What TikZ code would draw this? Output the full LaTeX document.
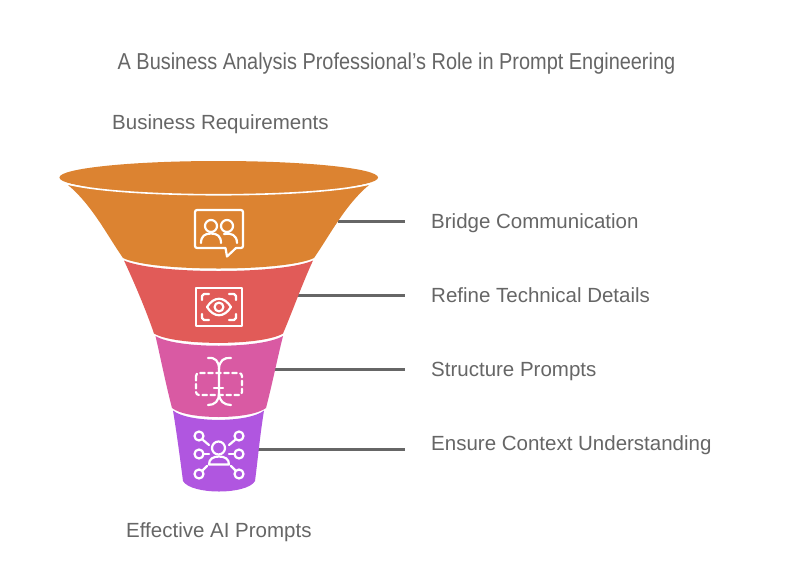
\documentclass[tikz,border=0pt]{standalone}
\usepackage{fontspec}
\setmainfont{Liberation Sans}
\newfontfamily\titlefont[FakeStretch=0.866]{Liberation Sans}
\definecolor{ctext}{HTML}{666666}
\definecolor{cline}{HTML}{666666}
\definecolor{corange}{HTML}{DC8331}
\definecolor{cred}{HTML}{E15B58}
\definecolor{cpink}{HTML}{D95AA3}
\definecolor{cpurple}{HTML}{B056E0}
\tikzset{
  lbl/.style={anchor=base west,inner sep=0pt,text=ctext,font=\fontsize{20.5}{24}\selectfont},
  conn/.style={draw=cline,line width=3pt},
  ico/.style={draw=white,line width=2.2pt,line cap=round,line join=round,fill=none}
}
\begin{document}
\begin{tikzpicture}[x=1pt,y=-1pt]
\useasboundingbox (0,0) rectangle (792,560);
\fill[white] (0,0) rectangle (792,560);
% connector anchors on the funnel
\coordinate (f1) at (338,221);
\coordinate (f2) at (298,295);
\coordinate (f3) at (274,369);
\coordinate (f4) at (258,449);
\coordinate (e1) at (405,221);
\coordinate (e2) at (405,295);
\coordinate (e3) at (405,369);
\coordinate (e4) at (405,449);
\draw[conn] (f1) -- (e1);
\draw[conn] (f2) -- (e2);
\draw[conn] (f3) -- (e3);
\draw[conn] (f4) -- (e4);
% funnel
\fill[corange] (218.7,177.5) ellipse [x radius=159.3, y radius=16.5];
\fill[corange] (68,185) .. controls (120,192) and (317,192) .. (369,185)
  .. controls (345,205) and (330,235) .. (314,258)
  .. controls (285,272) and (152,272) .. (123,258)
  .. controls (107,235) and (92,205) .. (68,185) -- cycle;
\draw[white,line width=1.6pt] (66,183.5) .. controls (120,198.5) and (317,198.5) .. (371,183.5);
\fill[cred] (124,260.5) .. controls (155,274.5) and (282,274.5) .. (313,260.5)
  .. controls (303,282) and (293,310) .. (283,333.5)
  .. controls (262,346) and (175,346) .. (154,333.5)
  .. controls (146,310) and (134,282) .. (124,260.5) -- cycle;
\fill[cpink] (155.5,336) .. controls (176,349) and (261,349) .. (283,336)
  .. controls (277,360) and (272,385) .. (266,408)
  .. controls (250,420) and (187,420) .. (172,408)
  .. controls (166,385) and (161,360) .. (155.5,336) -- cycle;
\fill[cpurple] (173,410.5) .. controls (188,423) and (249,423) .. (264,410.5)
  .. controls (260,435) and (258,458) .. (255,481)
  .. controls (247,495) and (191,495) .. (183,481)
  .. controls (180,458) and (177,435) .. (173,410.5) -- cycle;
% icon 1
\draw[ico] (197,210) -- (241,210) arc[start angle=-90,end angle=0,radius=2] -- (243,246) arc[start angle=0,end angle=90,radius=2]
  -- (236,248) -- (227,256.5) -- (225.5,248) -- (197,248) arc[start angle=90,end angle=180,radius=2] -- (195,212) arc[start angle=180,end angle=270,radius=2] -- cycle;
\draw[ico] (211,226) circle[radius=6];
\draw[ico] (227,226) circle[radius=6];
\draw[ico] (201,243) .. controls (201,236) and (205,233.5) .. (211,233.5) .. controls (217,233.5) and (221,236) .. (221,243);
\draw[ico] (224,234) .. controls (231,232.5) and (237,235) .. (237,243);
% icon 2
\draw[ico,line width=1.9pt] (196,288) rectangle (242,326);
\draw[ico] (202,300) -- (202,296) -- (204,294) -- (209,294);
\draw[ico] (229,294) -- (234,294) -- (236,296) -- (236,300);
\draw[ico] (202,314) -- (202,318) -- (204,320) -- (209,320);
\draw[ico] (229,320) -- (234,320) -- (236,318) -- (236,314);
\draw[ico] (207,307) .. controls (214,296) and (224,296) .. (231,307) .. controls (224,318) and (214,318) .. (207,307) -- cycle;
\draw[ico] (219,307) circle[radius=4.4];
% icon 3
\draw[ico] (208,358) .. controls (215,357) and (219,361) .. (219,369) -- (219,393) .. controls (219,401) and (215,405) .. (208,405);
\draw[ico] (231,358) .. controls (224,357) and (219,361) .. (219,369);
\draw[ico] (231,405) .. controls (224,405) and (219,401) .. (219,393);
\draw[ico,dash pattern=on 4.5pt off 3.5pt,rounded corners=3pt] (196,373) rectangle (242,395);
\draw[ico] (214,388) -- (223,388);
% icon 4
\draw[ico] (218.5,448) circle[radius=6.5];
\draw[ico] (209,464.5) .. controls (209,459) and (213,456.5) .. (219,456.5) .. controls (225,456.5) and (229,459) .. (229,464.5) -- cycle;
\foreach \px/\py in {199/436,239/436,199/454,239/454,199/474,239/474}{\draw[ico] (\px,\py) circle[radius=4.5];}
\draw[ico] (203,440) -- (209,445);
\draw[ico] (235,440) -- (229,445);
\draw[ico] (204,454) -- (209,454);
\draw[ico] (229,454) -- (234,454);
\draw[ico] (202.5,470.5) -- (207,466);
\draw[ico] (235.5,470.5) -- (231,466);
% text
\node[anchor=base,inner sep=0pt,text=ctext,font=\titlefont\fontsize{23}{26}\selectfont] (title) at (396.5,69) {A Business Analysis Professional’s Role in Prompt Engineering};
\node[lbl] (top) at (112,129) {Business Requirements};
\node[lbl] (bottom) at (126,537) {Effective AI Prompts};
\node[lbl] (l1) at (431,228) {Bridge Communication};
\node[lbl] (l2) at (431,302) {Refine Technical Details};
\node[lbl] (l3) at (431,376) {Structure Prompts};
\node[lbl] (l4) at (431,450) {Ensure Context Understanding};
\end{tikzpicture}
\end{document}
